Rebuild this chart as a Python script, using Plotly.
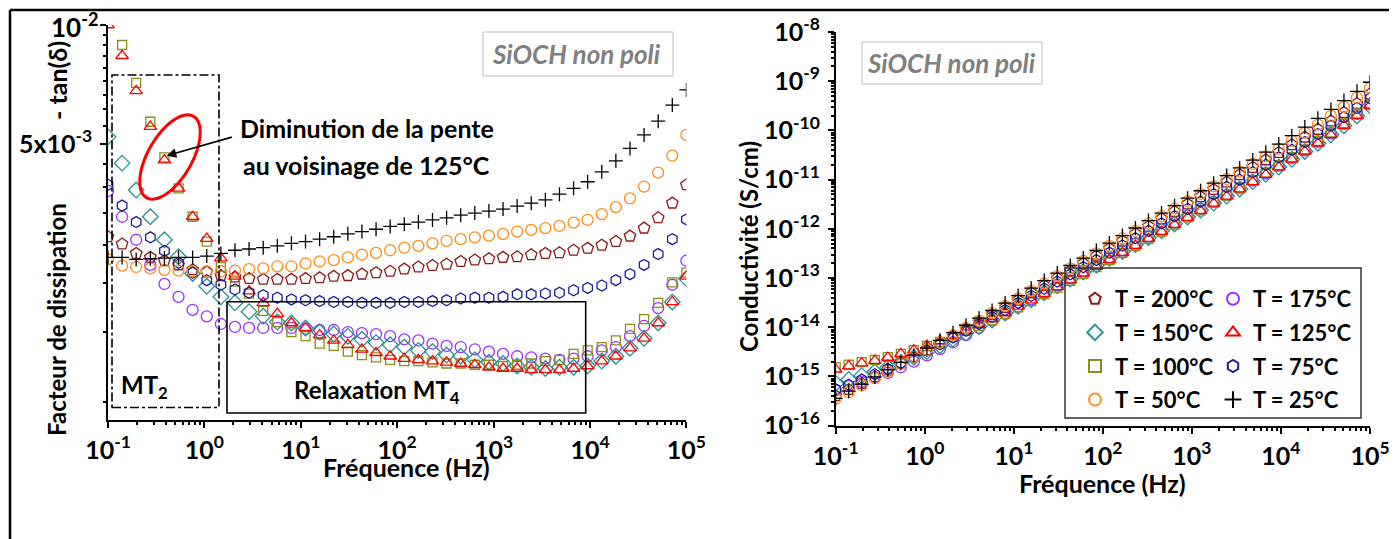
import numpy as np
import plotly.graph_objects as go

# ---------------- data ----------------
freq_hz = [0.1, 0.140, 0.196, 0.275, 0.385, 0.539, 0.755, 1.058, 1.482, 2.076, 2.907, 4.072,
           5.704, 7.990, 11.19, 15.68, 21.96, 30.76, 43.08, 60.35, 84.53, 118.4, 165.9, 232.3,
           325.4, 455.8, 638.4, 894.3, 1253, 1755, 2458, 3443, 4822, 6754, 9454, 13243,
           18549, 25982, 36393, 50977, 71404, 100000]

# dissipation factor tan(delta), in units of 1e-3
tand_200_e3 = [2.91, 2.79, 2.64, 2.58, 2.53, 2.47, 2.40, 2.37, 2.32, 2.30, 2.28, 2.27, 2.27, 2.27,
               2.28, 2.29, 2.31, 2.32, 2.34, 2.36, 2.38, 2.41, 2.44, 2.46, 2.48, 2.52, 2.54, 2.56,
               2.58, 2.59, 2.62, 2.64, 2.65, 2.69, 2.72, 2.77, 2.83, 2.92, 3.06, 3.25, 3.54, 3.94]
tand_175_e3 = [3.80, 3.27, 2.86, 2.47, 2.21, 2.05, 1.90, 1.83, 1.75, 1.72, 1.71, 1.71, 1.71, 1.71,
               1.70, 1.69, 1.69, 1.67, 1.66, 1.65, 1.63, 1.60, 1.59, 1.56, 1.54, 1.53, 1.51, 1.49,
               1.47, 1.45, 1.44, 1.43, 1.42, 1.43, 1.45, 1.50, 1.53, 1.63, 1.73, 1.92, 2.20, 2.53]
tand_150_e3 = [5.21, 4.47, 3.82, 3.27, 2.86, 2.59, 2.35, 2.18, 2.05, 1.98, 1.88, 1.83, 1.77, 1.76,
               1.71, 1.67, 1.65, 1.63, 1.60, 1.57, 1.55, 1.53, 1.50, 1.49, 1.46, 1.45, 1.42, 1.40,
               1.39, 1.37, 1.36, 1.35, 1.36, 1.36, 1.37, 1.41, 1.45, 1.52, 1.61, 1.76, 1.99, 2.28]
tand_125_e3 = [10.0, 8.36, 6.81, 5.53, 4.55, 3.86, 3.27, 2.88, 2.57, 2.31, 2.12, 1.98, 1.86, 1.76,
               1.71, 1.64, 1.59, 1.55, 1.51, 1.48, 1.45, 1.43, 1.42, 1.41, 1.40, 1.39, 1.38, 1.36,
               1.35, 1.35, 1.34, 1.34, 1.34, 1.35, 1.37, 1.41, 1.45, 1.52, 1.61, 1.76, 1.99, 2.31]
tand_100_e3 = [11.0, 8.90, 7.14, 5.69, 4.62, 3.86, 3.27, 2.83, 2.44, 2.24, 2.09, 1.89, 1.77, 1.67,
               1.63, 1.56, 1.54, 1.49, 1.46, 1.44, 1.42, 1.41, 1.41, 1.40, 1.39, 1.39, 1.38, 1.38,
               1.37, 1.38, 1.39, 1.41, 1.42, 1.47, 1.50, 1.53, 1.59, 1.70, 1.80, 1.98, 2.23, 2.36]
tand_75_e3 = [3.94, 3.49, 3.17, 2.90, 2.68, 2.50, 2.36, 2.26, 2.20, 2.14, 2.10, 2.07, 2.04, 2.02,
              2.01, 2.00, 1.99, 1.99, 1.98, 1.98, 1.98, 1.99, 1.99, 2.00, 2.01, 2.03, 2.04, 2.04,
              2.05, 2.08, 2.08, 2.09, 2.10, 2.13, 2.16, 2.19, 2.26, 2.34, 2.47, 2.63, 2.87, 3.22]
tand_50_e3 = [2.55, 2.46, 2.44, 2.42, 2.40, 2.39, 2.38, 2.38, 2.38, 2.39, 2.41, 2.42, 2.45, 2.45,
              2.49, 2.52, 2.54, 2.58, 2.62, 2.65, 2.69, 2.73, 2.76, 2.80, 2.84, 2.87, 2.90, 2.93,
              2.96, 3.00, 3.03, 3.06, 3.10, 3.16, 3.21, 3.32, 3.46, 3.64, 3.90, 4.23, 4.67, 5.27]
tand_25_e3 = [2.58, 2.58, 2.55, 2.56, 2.57, 2.58, 2.58, 2.60, 2.64, 2.69, 2.71, 2.73, 2.76, 2.80,
              2.83, 2.87, 2.91, 2.96, 3.00, 3.04, 3.09, 3.13, 3.17, 3.21, 3.25, 3.30, 3.34, 3.38,
              3.42, 3.48, 3.54, 3.61, 3.73, 3.86, 4.01, 4.25, 4.53, 4.87, 5.27, 5.71, 6.27, 6.85]

# conductivity (S/cm)
sig_200 = [4.04e-16, 5.43e-16, 7.20e-16, 9.85e-16, 1.35e-15, 1.85e-15, 2.52e-15, 3.48e-15, 4.78e-15,
           6.64e-15, 9.21e-15, 1.28e-14, 1.80e-14, 2.52e-14, 3.55e-14, 4.99e-14, 7.05e-14, 9.91e-14,
           1.40e-13, 1.98e-13, 2.79e-13, 3.96e-13, 5.62e-13, 7.94e-13, 1.12e-12, 1.60e-12, 2.25e-12,
           3.18e-12, 4.49e-12, 6.31e-12, 8.94e-12, 1.26e-11, 1.77e-11, 2.52e-11, 3.57e-11, 5.10e-11,
           7.30e-11, 1.05e-10, 1.55e-10, 2.30e-10, 3.51e-10, 5.48e-10]
sig_175 = [5.28e-16, 6.37e-16, 7.80e-16, 9.43e-16, 1.18e-15, 1.54e-15, 2.00e-15, 2.69e-15, 3.60e-15,
           4.96e-15, 6.91e-15, 9.67e-15, 1.36e-14, 1.90e-14, 2.64e-14, 3.68e-14, 5.16e-14, 7.14e-14,
           9.94e-14, 1.38e-13, 1.91e-13, 2.63e-13, 3.66e-13, 5.03e-13, 6.96e-13, 9.69e-13, 1.34e-12,
           1.85e-12, 2.56e-12, 3.53e-12, 4.91e-12, 6.84e-12, 9.51e-12, 1.34e-11, 1.91e-11, 2.76e-11,
           3.94e-11, 5.89e-11, 8.75e-11, 1.36e-10, 2.18e-10, 3.52e-10]
sig_150 = [7.24e-16, 8.70e-16, 1.04e-15, 1.25e-15, 1.53e-15, 1.94e-15, 2.47e-15, 3.20e-15, 4.22e-15,
           5.71e-15, 7.60e-15, 1.04e-14, 1.40e-14, 1.95e-14, 2.66e-14, 3.64e-14, 5.03e-14, 6.96e-14,
           9.58e-14, 1.32e-13, 1.82e-13, 2.52e-13, 3.46e-13, 4.81e-13, 6.60e-13, 9.18e-13, 1.26e-12,
           1.74e-12, 2.42e-12, 3.34e-12, 4.64e-12, 6.45e-12, 9.11e-12, 1.28e-11, 1.80e-11, 2.59e-11,
           3.74e-11, 5.49e-11, 8.14e-11, 1.25e-10, 1.97e-10, 3.17e-10]
sig_125 = [1.39e-15, 1.63e-15, 1.86e-15, 2.11e-15, 2.43e-15, 2.89e-15, 3.43e-15, 4.23e-15, 5.29e-15,
           6.66e-15, 8.57e-15, 1.12e-14, 1.47e-14, 1.95e-14, 2.66e-14, 3.57e-14, 4.85e-14, 6.62e-14,
           9.04e-14, 1.24e-13, 1.70e-13, 2.35e-13, 3.27e-13, 4.55e-13, 6.33e-13, 8.80e-13, 1.22e-12,
           1.69e-12, 2.35e-12, 3.29e-12, 4.57e-12, 6.41e-12, 8.97e-12, 1.27e-11, 1.80e-11, 2.59e-11,
           3.74e-11, 5.49e-11, 8.14e-11, 1.25e-10, 1.97e-10, 3.21e-10]
sig_100 = [1.53e-15, 1.73e-15, 1.95e-15, 2.17e-15, 2.47e-15, 2.89e-15, 3.43e-15, 4.16e-15, 5.02e-15,
           6.46e-15, 8.45e-15, 1.07e-14, 1.40e-14, 1.85e-14, 2.53e-14, 3.40e-14, 4.70e-14, 6.37e-14,
           8.74e-14, 1.21e-13, 1.67e-13, 2.32e-13, 3.25e-13, 4.52e-13, 6.28e-13, 8.80e-13, 1.22e-12,
           1.71e-12, 2.38e-12, 3.36e-12, 4.74e-12, 6.74e-12, 9.51e-12, 1.38e-11, 1.97e-11, 2.82e-11,
           4.10e-11, 6.14e-11, 9.10e-11, 1.40e-10, 2.21e-10, 3.28e-10]
sig_75 = [5.48e-16, 6.79e-16, 8.64e-16, 1.11e-15, 1.43e-15, 1.87e-15, 2.48e-15, 3.32e-15, 4.53e-15,
          6.17e-15, 8.49e-15, 1.17e-14, 1.62e-14, 2.24e-14, 3.13e-14, 4.36e-14, 6.07e-14, 8.50e-14,
          1.19e-13, 1.66e-13, 2.32e-13, 3.27e-13, 4.58e-13, 6.45e-13, 9.09e-13, 1.29e-12, 1.81e-12,
          2.53e-12, 3.57e-12, 5.07e-12, 7.10e-12, 9.99e-12, 1.41e-11, 2.00e-11, 2.84e-11, 4.03e-11,
          5.83e-11, 8.45e-11, 1.25e-10, 1.86e-10, 2.85e-10, 4.48e-10]
sig_50 = [3.54e-16, 4.79e-16, 6.65e-16, 9.24e-16, 1.28e-15, 1.79e-15, 2.50e-15, 3.50e-15, 4.90e-15,
          6.90e-15, 9.74e-15, 1.37e-14, 1.94e-14, 2.72e-14, 3.87e-14, 5.49e-14, 7.75e-14, 1.10e-13,
          1.57e-13, 2.22e-13, 3.16e-13, 4.49e-13, 6.36e-13, 9.04e-13, 1.28e-12, 1.82e-12, 2.57e-12,
          3.64e-12, 5.15e-12, 7.31e-12, 1.03e-11, 1.46e-11, 2.08e-11, 2.96e-11, 4.22e-11, 6.11e-11,
          8.92e-11, 1.31e-10, 1.97e-10, 3.00e-10, 4.63e-10, 7.33e-10]
sig_25 = [3.59e-16, 5.02e-16, 6.95e-16, 9.78e-16, 1.37e-15, 1.93e-15, 2.71e-15, 3.82e-15, 5.44e-15,
          7.76e-15, 1.10e-14, 1.54e-14, 2.19e-14, 3.11e-14, 4.40e-14, 6.25e-14, 8.88e-14, 1.26e-13,
          1.80e-13, 2.55e-13, 3.63e-13, 5.15e-13, 7.30e-13, 1.04e-12, 1.47e-12, 2.09e-12, 2.96e-12,
          4.20e-12, 5.95e-12, 8.48e-12, 1.21e-11, 1.73e-11, 2.50e-11, 3.62e-11, 5.27e-11, 7.82e-11,
          1.17e-10, 1.76e-10, 2.67e-10, 4.05e-10, 6.22e-10, 9.52e-10]

labels = ["T = 200°C", "T = 175°C", "T = 150°C", "T = 125°C",
          "T = 100°C", "T = 75°C", "T = 50°C", "T = 25°C"]

x_tickvals = [0.1, 1, 10, 100, 1000, 10000, 100000]
x_ticktext = ["10<sup>-1</sup>", "10<sup>0</sup>", "10<sup>1</sup>", "10<sup>2</sup>",
              "10<sup>3</sup>", "10<sup>4</sup>", "10<sup>5</sup>"]
yl_tickvals = [0.01, 0.005]
yl_ticktext = ["", "5x10<sup>-3</sup>"]
yl_top_label = "10<sup>-2</sup>"
yr_tickvals = [1e-16, 1e-15, 1e-14, 1e-13, 1e-12, 1e-11, 1e-10, 1e-9, 1e-8]
yr_ticktext = ["10<sup>-16</sup>", "10<sup>-15</sup>", "10<sup>-14</sup>", "10<sup>-13</sup>",
               "10<sup>-12</sup>", "10<sup>-11</sup>", "10<sup>-10</sup>", "10<sup>-9</sup>",
               "10<sup>-8</sup>"]

# ---------------- style ----------------
W, H = 1397, 539
OFF = 8  # page body margin of the html document
FONT = "Lato"


def px(x):
    return (x - OFF) / W


def py(y):
    return (H - (y - OFF)) / H


styles = [
    (labels[0], "pentagon-open", "#8B1A1A", 12, "legend", 1, tand_200_e3, sig_200),
    (labels[1], "circle-open", "#9B30FF", 11, "legend2", 1, tand_175_e3, sig_175),
    (labels[2], "diamond-open", "#2A9090", 12, "legend", 2, tand_150_e3, sig_150),
    (labels[4], "square-open", "#8C8C1A", 9, "legend", 3, tand_100_e3, sig_100),
    (labels[3], "triangle-up-open", "#FF0000", 11, "legend2", 2, tand_125_e3, sig_125),
    (labels[5], "hexagon-open", "#1C1C9C", 11, "legend2", 3, tand_75_e3, sig_75),
    (labels[6], "circle-open", "#FF8C1A", 11, "legend", 4, tand_50_e3, sig_50),
    (labels[7], "cross-thin-open", "#000000", 10, "legend2", 4, tand_25_e3, sig_25),
]

fig = go.Figure()
for name, sym, col, size, leg, rank, tand_e3, sig in styles:
    tand = [v * 1e-3 for v in tand_e3]
    mk = dict(symbol=sym, size=size, color=col, line=dict(color=col, width=1.3))
    fig.add_trace(go.Scatter(x=freq_hz, y=tand, mode="markers", marker=mk, name=name,
                             showlegend=False, xaxis="x", yaxis="y", hoverinfo="skip"))
    fig.add_trace(go.Scatter(x=freq_hz, y=sig, mode="markers", marker=mk, name=name,
                             showlegend=True, legend=leg, legendrank=rank, legendgroup=name,
                             xaxis="x2", yaxis="y2", hoverinfo="skip"))

tickfont = dict(family=FONT, size=25, color="black", weight="bold")
x_minor = [m * 10.0 ** e for e in range(-1, 5) for m in range(2, 10)]
yl_minor = [n / 18 * 0.01 for n in range(2, 18) if n != 9]
yr_minor = [m * 10.0 ** e for e in range(-16, -8) for m in range(2, 10)]

common = dict(type="log", showgrid=False, zeroline=False, showline=True, linecolor="black",
              linewidth=1.6, ticklen=6, tickwidth=1.5, tickcolor="black", automargin=False)


def main_axis(**kw):
    d = dict(common)
    d.update(ticks="outside", tickfont=tickfont, tickmode="array", ticklabeloverflow="allow")
    d.update(kw)
    return d


def mirror_axis(**kw):
    d = dict(common)
    d.update(ticks="inside", showticklabels=False, tickmode="array")
    d.update(kw)
    return d


LX = [px(108), px(686.4)]
LY = [py(420), py(25)]
RX = [px(835.7), px(1370)]
RY = [py(425.7), py(32)]

fig.update_layout(
    xaxis=main_axis(domain=LX, range=[-1, 5], anchor="y", tickvals=x_tickvals, ticktext=x_ticktext,
                    ticklabelstandoff=1,
                    minor=dict(tickvals=x_minor, ticks="outside", ticklen=3, tickcolor="black")),
    yaxis=main_axis(domain=LY, range=[-3, -2], anchor="x", tickvals=yl_tickvals, ticktext=yl_ticktext,
                    ticklabelstandoff=3,
                    minor=dict(tickvals=yl_minor, ticks="outside", ticklen=3, tickcolor="black")),
    xaxis3=mirror_axis(domain=LX, range=[-1, 5], anchor="y", overlaying="x", side="top",
                       tickvals=x_tickvals,
                       minor=dict(tickvals=x_minor, ticks="inside", ticklen=3, tickcolor="black")),
    yaxis3=mirror_axis(domain=LY, range=[-3, -2], anchor="x", overlaying="y", side="right",
                       tickvals=yl_tickvals,
                       minor=dict(tickvals=yl_minor, ticks="inside", ticklen=3, tickcolor="black")),
    xaxis2=main_axis(domain=RX, range=[-1, 5], anchor="y2", tickvals=x_tickvals, ticktext=x_ticktext,
                     ticklabelstandoff=1,
                     minor=dict(tickvals=x_minor, ticks="outside", ticklen=3, tickcolor="black")),
    yaxis2=main_axis(domain=RY, range=[-16, -8], anchor="x2", tickvals=yr_tickvals, ticktext=yr_ticktext,
                     ticklabelstandoff=3,
                     minor=dict(tickvals=yr_minor, ticks="outside", ticklen=3, tickcolor="black")),
    xaxis4=mirror_axis(domain=RX, range=[-1, 5], anchor="y2", overlaying="x2", side="top",
                       tickvals=x_tickvals,
                       minor=dict(tickvals=x_minor, ticks="inside", ticklen=3, tickcolor="black")),
    yaxis4=mirror_axis(domain=RY, range=[-16, -8], anchor="x2", overlaying="y2", side="right",
                       tickvals=yr_tickvals,
                       minor=dict(tickvals=yr_minor, ticks="inside", ticklen=3, tickcolor="black")),
)

legfont = dict(family=FONT, size=22, color="black", weight="bold")
fig.update_layout(
    legend=dict(x=px(1075), y=py(278), xanchor="left", yanchor="top", font=legfont,
                bgcolor="rgba(0,0,0,0)", borderwidth=0, tracegroupgap=2, itemsizing="constant"),
    legend2=dict(x=px(1213), y=py(278), xanchor="left", yanchor="top", font=legfont,
                 bgcolor="rgba(0,0,0,0)", borderwidth=0, tracegroupgap=2, itemsizing="constant"),
)

shapes = []
shapes.append(dict(type="line", xref="paper", yref="paper", x0=px(10), y0=py(10), x1=px(1405), y1=py(10),
                   line=dict(color="black", width=2.5)))
shapes.append(dict(type="line", xref="paper", yref="paper", x0=px(10), y0=py(10), x1=px(10), y1=py(547),
                   line=dict(color="black", width=2.5)))
shapes.append(dict(type="rect", xref="paper", yref="paper", x0=px(483), y0=py(76), x1=px(673), y1=py(32),
                   line=dict(color="#BFBFBF", width=1)))
shapes.append(dict(type="rect", xref="paper", yref="paper", x0=px(862), y0=py(84), x1=px(1042), y1=py(42),
                   line=dict(color="#BFBFBF", width=1)))
shapes.append(dict(type="rect", xref="paper", yref="paper", x0=px(112), y0=py(407.5), x1=px(219), y1=py(75),
                   line=dict(color="black", width=1.6, dash="dashdot")))
shapes.append(dict(type="rect", xref="paper", yref="paper", x0=px(227), y0=py(413), x1=px(585.7), y1=py(301.7),
                   line=dict(color="black", width=1.6)))
shapes.append(dict(type="rect", xref="paper", yref="paper", x0=px(1065), y0=py(418), x1=px(1361), y1=py(268),
                   line=dict(color="#333333", width=1.5)))
t = np.linspace(0, 2 * np.pi, 73)
cx, cy, a, b, th = 170.0, 157.0, 47.0, 22.0, np.deg2rad(60)
ex = cx + a * np.cos(t) * np.cos(th) - b * np.sin(t) * np.sin(th)
ey = cy - (a * np.cos(t) * np.sin(th) + b * np.sin(t) * np.cos(th))
path = "M " + " L ".join(f"{px(xx):.5f},{py(yy):.5f}" for xx, yy in zip(ex, ey)) + " Z"
shapes.append(dict(type="path", xref="paper", yref="paper", path=path, line=dict(color="#FF0000", width=3)))
fig.update_layout(shapes=shapes)


def ann(x, y, text, size=21, color="black", angle=0, xanchor="center", italic=False, yanchor="middle"):
    return dict(xref="paper", yref="paper", x=px(x), y=py(y), text=text, showarrow=False,
                xanchor=xanchor, yanchor=yanchor, textangle=angle,
                font=dict(family=FONT, size=size, color=color, weight="bold",
                          style="italic" if italic else "normal"))


anns = [
    ann(56, 320, "Facteur de dissipation", size=24, angle=-90),
    ann(57, 81, "- tan(δ)", size=25, angle=-90),
    ann(101, 45, yl_top_label, size=26, xanchor="right", yanchor="bottom"),
    ann(406, 467, "Fréquence (Hz)", size=25),
    ann(1102, 483, "Fréquence (Hz)", size=25),
    ann(749, 247, "Conductivité (S/cm)", size=24, angle=-90),
    ann(576, 54, "SiOCH non poli", size=26, color="#808080", italic=True),
    ann(951, 63, "SiOCH non poli", size=26, color="#808080", italic=True),
    ann(367, 128, "Diminution de la pente", size=25),
    ann(366, 165, "au voisinage de 125°C", size=25),
    ann(119, 387, "MT<sub>2</sub>", size=24, xanchor="left"),
    ann(377, 391, "Relaxation MT<sub>4</sub>", size=24),
    dict(xref="paper", yref="paper", x=px(166.7), y=py(155.7), text="", showarrow=True,
         ax=66.6, ay=-19, arrowhead=2, arrowsize=1.2, arrowwidth=1.6, arrowcolor="black"),
]
fig.update_layout(annotations=anns)

fig.update_layout(width=W, height=H, margin=dict(l=0, r=0, t=0, b=0, pad=0, autoexpand=False),
                  plot_bgcolor="white", paper_bgcolor="white",
                  font=dict(family=FONT, color="black"))

fig.write_html("out.html")
